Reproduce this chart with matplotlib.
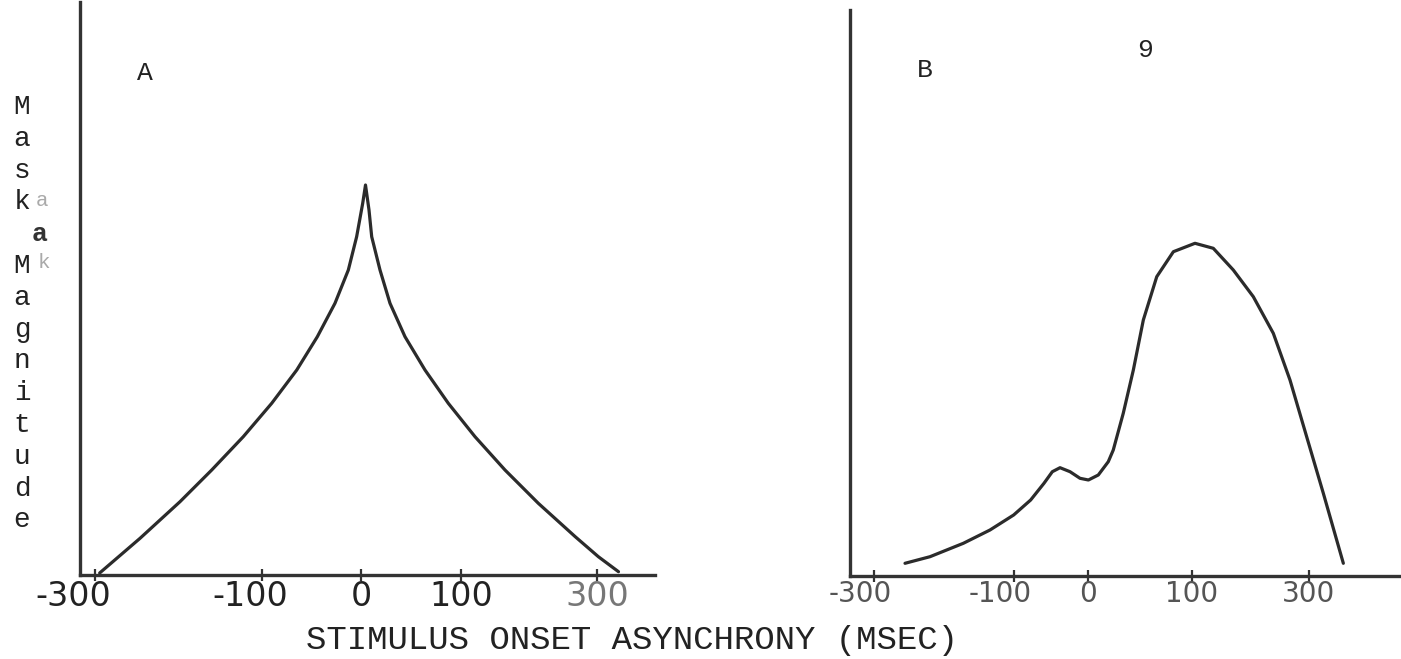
import numpy as np
import matplotlib
matplotlib.use("Agg")
import matplotlib.pyplot as plt

# ---------------- data ----------------
tick_labels = ["-300", "-100", "0", "100", "300"]
tick_values = [-300, -100, 0, 100, 300]

# Panel A: cusp-shaped masking function (SOA in msec, magnitude in arbitrary units)
a_soa = [-295, -246.5, -198.5, -160.4, -122.5, -90.2, -64.9, -44.1, -26.3, -12.8,
         -4.4, 1.7, 4.5, 8.0, 10.7, 19, 29, 44, 64, 87.3, 120.6, 164.7, 213.7,
         268, 302, 331.6]
a_mag = [0.2, 3.67, 7.33, 10.5, 13.83, 17.17, 20.5, 23.83, 27.17, 30.5,
         33.83, 37.17, 39.0, 36.5, 33.83, 30.5, 27.17, 23.83, 20.5, 17.17, 13.83, 10.5,
         7.17, 3.83, 1.83, 0.33]

# Panel B: small early bump then large late peak
b_soa = [-255.7, -220, -172.4, -134.3, -100.5, -77.5, -59.5, -48.2, -37.8, -24.3,
         -10.8, 0.4, 9.9, 19.5, 24.3, 33.9, 43.6, 53.2, 66.1, 82.1, 105.1, 136.4,
         170.6, 204.8, 239, 267.5, 296, 324.5, 358.7]
b_mag = [1.27, 1.93, 3.27, 4.6, 6.1, 7.6, 9.27, 10.43, 10.83, 10.43,
         9.77, 9.6, 10.1, 11.43, 12.6, 16.27, 20.6, 25.6, 29.93, 32.43, 33.27, 32.77,
         30.6, 27.93, 24.27, 19.6, 13.93, 8.27, 1.27]

ylabel_chars = list("Mask") + [""] + list("Magnitude")
xlabel = "STIMULUS ONSET ASYNCHRONY (MSEC)"

# hand-drawn axes: tick positions are not evenly spaced (layout, px along each axis)
a_axis_ms = [-300, -100, 0, 100, 300]
a_axis_pos = [15.5, 182, 281, 381, 517]
b_axis_ms = [-300, -100, 0, 100, 300]
b_axis_pos = [24, 164, 238, 342, 459]

W, H = 1401, 659
fig = plt.figure(figsize=(W / 100, H / 100), dpi=100)
fig.patch.set_facecolor("white")

INK = "#2b2b2b"


def make_funcs(ms, pos):
    ms = np.asarray(ms, float)
    pos = np.asarray(pos, float)
    s_lo = (pos[1] - pos[0]) / (ms[1] - ms[0])
    s_hi = (pos[-1] - pos[-2]) / (ms[-1] - ms[-2])

    def fwd(x):
        x = np.asarray(x, float)
        y = np.interp(x, ms, pos)
        y = np.where(x < ms[0], pos[0] + (x - ms[0]) * s_lo, y)
        y = np.where(x > ms[-1], pos[-1] + (x - ms[-1]) * s_hi, y)
        return y

    def inv(p):
        p = np.asarray(p, float)
        x = np.interp(p, pos, ms)
        x = np.where(p < pos[0], ms[0] + (p - pos[0]) / s_lo, x)
        x = np.where(p > pos[-1], ms[-1] + (p - pos[-1]) / s_hi, x)
        return x

    return fwd, inv


def panel(rect_px, axis_ms, axis_pos, xs, ys, label_colors, label_size, label_dx):
    l, r, top, bot = rect_px
    ax = fig.add_axes([l / W, (H - bot) / H, (r - l) / W, (bot - top) / H])
    fwd, inv = make_funcs(axis_ms, axis_pos)
    ax.set_xscale("function", functions=(fwd, inv))
    ax.set_xlim(float(inv(0.0)), float(inv(r - l)))
    ax.set_ylim(0, (bot - top) / 10.0)
    ax.plot(xs, ys, color=INK, lw=2.3, solid_capstyle="round",
            solid_joinstyle="round")
    for s in ["top", "right"]:
        ax.spines[s].set_visible(False)
    for s in ["left", "bottom"]:
        ax.spines[s].set_linewidth(2.4)
        ax.spines[s].set_color("#333333")
    ax.set_xticks(tick_values)
    ax.set_xticklabels([])
    ax.tick_params(axis="x", direction="inout", length=9, width=1.6,
                   color="#333333", pad=0)
    ax.set_yticks([])
    ax.set_facecolor("none")
    # tick labels placed at tick values, minus-signed ones hang to the left
    for v, lab, c, dx in zip(tick_values, tick_labels, label_colors, label_dx):
        ax.annotate(lab, xy=(v, 0), xycoords=("data", "axes fraction"),
                    xytext=(dx * 0.72, -4.5 * 0.72), textcoords="offset points",
                    ha="center", va="top", fontsize=label_size,
                    family="DejaVu Sans", color=c, annotation_clip=False)
    return ax


axA = panel((80, 655, 2, 575), a_axis_ms, a_axis_pos, a_soa, a_mag,
            ["#222222"] * 4 + ["#777777"], 24, [-22, -12, 0, 0, 0])
axB = panel((850, 1401, 10, 576), b_axis_ms, b_axis_pos, b_soa, b_mag,
            ["#555555"] * 5, 20, [-14, -14, 0, 0, 0])

mono = "Liberation Mono"

# panel letters and page number
fig.text(145 / W, 1 - 73 / H, "A", fontsize=19, family=mono, color="#222222",
         ha="center", va="center")
fig.text(925 / W, 1 - 70 / H, "B", fontsize=19, family=mono, color="#222222",
         ha="center", va="center")
fig.text(1145 / W, 1 - 50 / H, "9", fontsize=19, family=mono, color="#222222",
         ha="center", va="center")

# stacked vertical y label
y0, dy = 107, 31.8
for i, ch in enumerate(ylabel_chars):
    if ch:
        fig.text(22 / W, 1 - (y0 + i * dy) / H, ch, fontsize=20, family=mono,
                 color="#222222", ha="center", va="center")
# overstruck typing
fig.text(42 / W, 1 - 200 / H, "a", fontsize=15, family=mono, color="#aaaaaa",
         ha="center", va="center")
fig.text(40 / W, 1 - 234 / H, "a", fontsize=19, family=mono, color="#333333",
         ha="center", va="center", fontweight="bold")
fig.text(44 / W, 1 - 263 / H, "k", fontsize=15, family=mono, color="#aaaaaa",
         ha="center", va="center")

# x label
fig.text(632 / W, 1 - 641 / H, xlabel, fontsize=24.5, family=mono,
         color="#222222", ha="center", va="center")

fig.savefig("out.png", dpi=100, facecolor="white")
